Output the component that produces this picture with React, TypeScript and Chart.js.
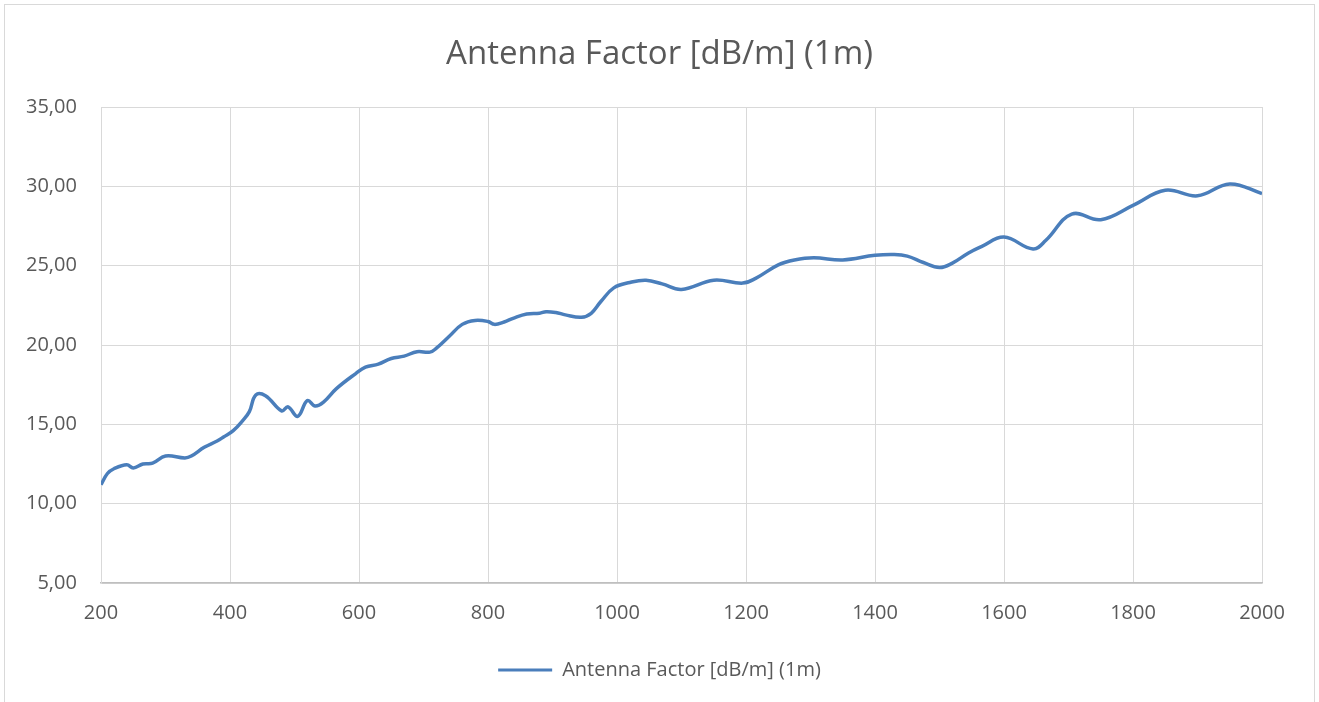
import React, { useEffect, useRef } from "react";
import { Chart, registerables } from "chart.js";

Chart.register(...registerables);

const seriesLabel = "Antenna Factor [dB/m] (1m)";
const chartTitle = "Antenna Factor [dB/m] (1m)";

const frequencies = [
  200, 210, 220, 240, 250, 265, 280, 300, 330, 340, 360, 380, 390, 405, 420, 430, 440, 455,
  480, 490, 505, 520, 532, 545, 565, 595, 610, 630, 650, 670, 690, 710, 720, 740, 760, 780,
  800, 810, 825, 840, 860, 880, 890, 905, 920, 945, 960, 975, 995, 1020, 1045, 1070, 1100,
  1150, 1195, 1215, 1250, 1275, 1305, 1350, 1400, 1430, 1450, 1475, 1500, 1520, 1545, 1565,
  1600, 1645, 1665, 1705, 1750, 1800, 1850, 1900, 1950, 2000,
];

const antennaFactor = [
  11.2, 11.9, 12.2, 12.45, 12.25, 12.5, 12.55, 13.0, 12.88, 13.0, 13.55, 13.95, 14.2, 14.6,
  15.25, 15.8, 16.85, 16.8, 15.85, 16.1, 15.5, 16.5, 16.15, 16.4, 17.25, 18.2, 18.6, 18.8,
  19.15, 19.3, 19.58, 19.55, 19.8, 20.55, 21.3, 21.55, 21.48, 21.3, 21.45, 21.7, 21.95, 22.0,
  22.1, 22.05, 21.9, 21.75, 22.0, 22.74, 23.6, 23.94, 24.08, 23.85, 23.5, 24.08, 23.9, 24.2,
  25.05, 25.36, 25.5, 25.36, 25.65, 25.7, 25.6, 25.2, 24.88, 25.16, 25.8, 26.2, 26.8, 26.05,
  26.6, 28.25, 27.9, 28.8, 29.75, 29.4, 30.15, 29.55,
];

const xTicks = [200, 400, 600, 800, 1000, 1200, 1400, 1600, 1800, 2000];
const yTicks = [5, 10, 15, 20, 25, 30, 35];

const LINE_COLOR = "#4a7ebb";
const TEXT_COLOR = "#595959";
const GRID_COLOR = "#d9d9d9";

export default function App() {
  const canvasRef = useRef<HTMLCanvasElement | null>(null);

  useEffect(() => {
    document.documentElement.style.overflow = "hidden";
    document.body.style.overflow = "hidden";
    const canvas = canvasRef.current;
    if (!canvas) return;
    Chart.defaults.font.family = "'Open Sans', sans-serif";
    const points = frequencies.map((f, i) => ({ x: f, y: antennaFactor[i] }));
    const chart = new Chart(canvas, {
      type: "line",
      data: {
        datasets: [
          {
            label: seriesLabel,
            data: points,
            borderColor: LINE_COLOR,
            backgroundColor: LINE_COLOR,
            borderWidth: 3.5,
            pointRadius: 0,
            tension: 0.4,
            fill: false,
          },
        ],
      },
      options: {
        animation: false,
        responsive: false,
        layout: { padding: { left: 52, right: 52, top: 0, bottom: 20 } },
        plugins: {
          title: {
            display: true,
            text: chartTitle,
            color: TEXT_COLOR,
            font: { size: 33, weight: "normal" as any, family: "'Open Sans', sans-serif" },
            padding: { top: 30.2, bottom: 32.2 },
          },
          legend: {
            display: true,
            position: "bottom",
            labels: {
              color: TEXT_COLOR,
              font: { size: 20, family: "'Open Sans', sans-serif" },
              boxWidth: 54,
              boxHeight: 3,
              padding: 10,
              generateLabels: () => [
                {
                  text: seriesLabel,
                  fillStyle: LINE_COLOR,
                  strokeStyle: LINE_COLOR,
                  lineWidth: 0,
                  hidden: false,
                  datasetIndex: 0,
                  fontColor: TEXT_COLOR,
                } as any,
              ],
            },
          },
          tooltip: { enabled: false },
        },
        scales: {
          x: {
            type: "linear",
            min: 200,
            max: 2000,
            afterBuildTicks: (scale: any) => {
              scale.ticks = xTicks.map((v) => ({ value: v }));
            },
            afterFit: (scale: any) => {
              scale.height = 67;
            },
            ticks: {
              color: TEXT_COLOR,
              font: { size: 20 },
              padding: 18,
              maxRotation: 0,
              autoSkip: false,
              callback: (v: any) => String(v),
            },
            grid: { color: GRID_COLOR, lineWidth: 1, drawTicks: false },
            border: { display: true, color: "#bfbfbf", width: 1.5 },
          },
          y: {
            type: "linear",
            min: 5,
            max: 35,
            afterBuildTicks: (scale: any) => {
              scale.ticks = yTicks.map((v) => ({ value: v }));
            },
            afterFit: (scale: any) => {
              scale.width = 44;
            },
            ticks: {
              color: TEXT_COLOR,
              font: { size: 20 },
              mirror: true,
              crossAlign: "far",
              padding: -75,
              autoSkip: false,
              callback: (v: any) => Number(v).toFixed(2).replace(".", ","),
            },
            grid: { color: GRID_COLOR, lineWidth: 1, drawTicks: false },
            border: { display: true, color: GRID_COLOR, width: 1 },
          },
        },
      },
    });
    return () => chart.destroy();
  }, []);

  return (
    <div
      style={{
        position: "absolute",
        left: 4,
        top: 4,
        width: 1309,
        height: 705,
        border: "1px solid #d9d9d9",
        background: "#fff",
      }}
    >
      <canvas ref={canvasRef} width={1309} height={705} style={{ display: "block" }} />
    </div>
  );
}
